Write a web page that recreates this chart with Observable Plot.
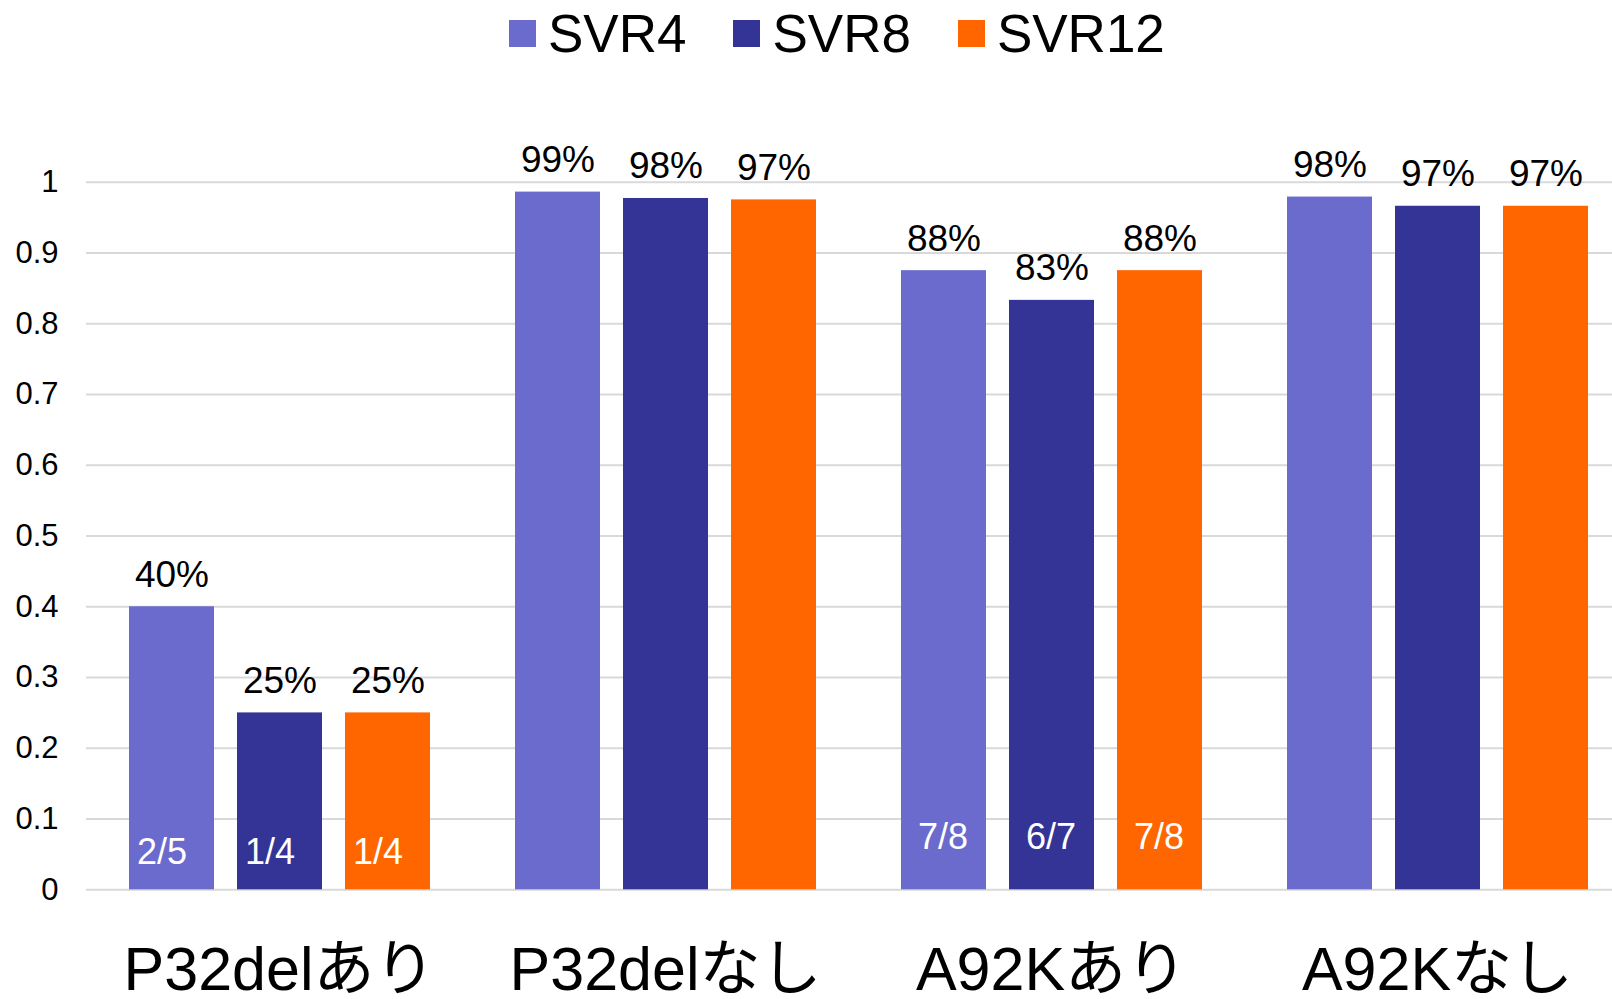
<!DOCTYPE html>
<html>
<head>
<meta charset="utf-8">
<script src="https://cdn.jsdelivr.net/npm/d3@7"></script>
<script src="https://cdn.jsdelivr.net/npm/@observablehq/plot@0.6"></script>
<style>
  html, body { margin: 0; padding: 0; background: #fff; overflow: hidden; }
  body { width: 1612px; height: 999px; font-family: "Liberation Sans", Arial, "Noto Sans CJK JP", sans-serif; }
  #legend { position: relative; height: 80px; display: flex; align-items: flex-start; padding-left: 509px; box-sizing: border-box; }
  .item { display: flex; align-items: center; height: 67px; margin-right: 47px; }
  .sw { width: 27px; height: 27px; margin-right: 12px; }
  .lbl { font-size: 53px; line-height: 1; color: #000; }
  #chart svg { display: block; }
</style>
</head>
<body>
<div id="legend"></div>
<div id="chart"></div>
<script>
const groups = ["P32delあり", "P32delなし", "A92Kあり", "A92Kなし"];
const series = ["SVR4", "SVR8", "SVR12"];
const colors = ["#6B6BCD", "#343497", "#FF6600"];
const svr4 = [0.40, 0.986, 0.875, 0.979];
const svr8 = [0.25, 0.977, 0.833, 0.966];
const svr12 = [0.25, 0.975, 0.875, 0.966];
const pct4 = ["40%", "99%", "88%", "98%"];
const pct8 = ["25%", "98%", "83%", "97%"];
const pct12 = ["25%", "97%", "88%", "97%"];
const fracGroup1 = ["2/5", "1/4", "1/4"];
const fracGroup3 = ["7/8", "6/7", "7/8"];
const yTicks = [0, 0.1, 0.2, 0.3, 0.4, 0.5, 0.6, 0.7, 0.8, 0.9, 1];
const yTickLabels = ["0", "0.1", "0.2", "0.3", "0.4", "0.5", "0.6", "0.7", "0.8", "0.9", "1"];

const values = [svr4, svr8, svr12];
const pcts = [pct4, pct8, pct12];
const data = [];
groups.forEach((g, gi) => {
  series.forEach((s, si) => {
    data.push({group: g, series: s, value: values[si][gi], pct: pcts[si][gi]});
  });
});
const frac1 = series.map((s, i) => ({group: groups[0], series: s, label: fracGroup1[i]}));
const frac3 = series.map((s, i) => ({group: groups[2], series: s, label: fracGroup3[i]}));

// legend
const legend = document.getElementById("legend");
series.forEach((s, i) => {
  const it = document.createElement("div");
  it.className = "item";
  it.innerHTML = `<div class="sw" style="background:${colors[i]}"></div><div class="lbl">${s}</div>`;
  legend.appendChild(it);
});

const fontFamily = '"Liberation Sans", Arial, "Noto Sans CJK JP", sans-serif';

const chart = Plot.plot({
  width: 1612,
  height: 919,
  marginLeft: 86,
  marginRight: -18,
  marginTop: 101.7,
  marginBottom: 109.7,
  style: {fontFamily, background: "#fff", overflow: "hidden"},
  fx: {domain: groups, padding: 0, label: null},
  x: {domain: series, paddingInner: 0.213, paddingOuter: 0.3935, axis: null},
  y: {domain: [0, 1], label: null},
  color: {domain: series, range: colors},
  marks: [
    Plot.gridY(yTicks, {stroke: "#d9d9d9", strokeWidth: 2, strokeOpacity: 1}),
    Plot.axisY(yTicks, {tickSize: 0, tickPadding: 28, fontSize: 31, fill: "#000",
      tickFormat: (d) => yTickLabels[yTicks.indexOf(d)], label: null}),
    Plot.axisFx({anchor: "bottom", tickSize: 0, tickPadding: 57, fontSize: 61, fill: "#000", label: null}),
    Plot.barY(data, {fx: "group", x: "series", y: "value", fill: "series"}),
    Plot.text(data, {fx: "group", x: "series", y: "value", text: "pct",
      lineAnchor: "bottom", dy: -20, fontSize: 37, fill: "#000"}),
    Plot.text(frac1, {fx: "group", x: "series", y: () => 0, text: "label",
      lineAnchor: "bottom", dy: -26, dx: -10, fontSize: 36, fill: "#fff"}),
    Plot.text(frac3, {fx: "group", x: "series", y: () => 0, text: "label",
      lineAnchor: "bottom", dy: -41, dx: -1, fontSize: 36, fill: "#fff"})
  ]
});
document.getElementById("chart").appendChild(chart);
</script>
</body>
</html>
